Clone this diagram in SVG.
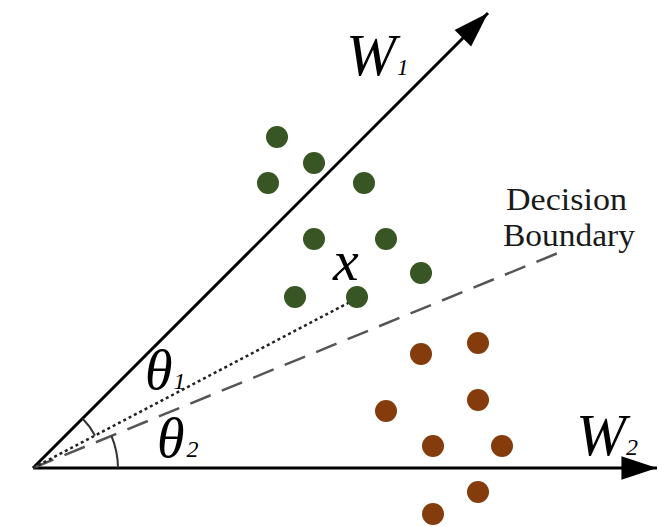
<svg xmlns="http://www.w3.org/2000/svg" width="667" height="527" viewBox="0 0 667 527">
<style>
.axis{stroke:#000;stroke-width:3;fill:none}
.g{fill:#375623}
.b{fill:#843c0c}
.lbl{font-family:"Liberation Serif",serif;font-style:italic;fill:#000}
.txt{font-family:"Liberation Serif",serif;fill:#1a1a1a;font-size:31px}
.arc{stroke:#333;stroke-width:2;fill:none}
</style>
<defs>
<marker id="ah" markerUnits="userSpaceOnUse" markerWidth="40" markerHeight="30" viewBox="-34 -12 36 24" refX="0" refY="0" orient="auto">
<path d="M0,0 L-32,-10.5 L-32,10.5 Z" fill="#000"/>
</marker>
</defs>
<rect width="667" height="527" fill="#fff"/>
<g id="connectors">
<line class="axis" x1="33" y1="468" x2="657" y2="468" marker-end="url(#ah)"/>
<line class="axis" x1="33" y1="468" x2="488" y2="13" marker-end="url(#ah)"/>
<line x1="33" y1="468" x2="558" y2="253" stroke="#555" stroke-width="2.5" stroke-dasharray="22 12"/>
<line x1="33" y1="468" x2="350" y2="302" stroke="#222" stroke-width="2.5" stroke-dasharray="3 3"/>
<path class="arc" d="M82.5,418.5 A70,70 0 0 1 95,435.5"/>
<path class="arc" d="M111.5,436 A85,85 0 0 1 118,468"/>
</g>
<g id="green">
<circle class="g" cx="277" cy="137" r="11"/>
<circle class="g" cx="314" cy="163" r="11"/>
<circle class="g" cx="268" cy="183" r="11"/>
<circle class="g" cx="364" cy="183" r="11"/>
<circle class="g" cx="314" cy="239" r="11"/>
<circle class="g" cx="386" cy="239" r="11"/>
<circle class="g" cx="421" cy="273" r="11"/>
<circle class="g" cx="295" cy="297" r="11"/>
<circle class="g" cx="357" cy="297" r="11"/>
</g>
<g id="brown">
<circle class="b" cx="421" cy="354" r="11"/>
<circle class="b" cx="478" cy="343" r="11"/>
<circle class="b" cx="386" cy="411" r="11"/>
<circle class="b" cx="478" cy="400" r="11"/>
<circle class="b" cx="433" cy="446" r="11"/>
<circle class="b" cx="502" cy="446" r="11"/>
<circle class="b" cx="478" cy="492" r="11"/>
<circle class="b" cx="433" cy="514" r="11"/>
</g>
<g id="labels">
<text class="lbl" x="346" y="75" font-size="60">W<tspan font-size="23" dx="1">1</tspan></text>
<text class="lbl" x="576" y="455" font-size="60">W<tspan font-size="24" dx="0">2</tspan></text>
<text class="lbl" x="145" y="389" font-size="56">θ<tspan font-size="24" dx="1">1</tspan></text>
<text class="lbl" x="157" y="457" font-size="56">θ<tspan font-size="24" dx="2">2</tspan></text>
<text class="lbl" x="333" y="280" font-size="58">x</text>
<text class="txt" x="506" y="210" textLength="121" lengthAdjust="spacingAndGlyphs">Decision</text>
<text class="txt" x="503" y="246" textLength="132" lengthAdjust="spacingAndGlyphs">Boundary</text>
</g>
</svg>
